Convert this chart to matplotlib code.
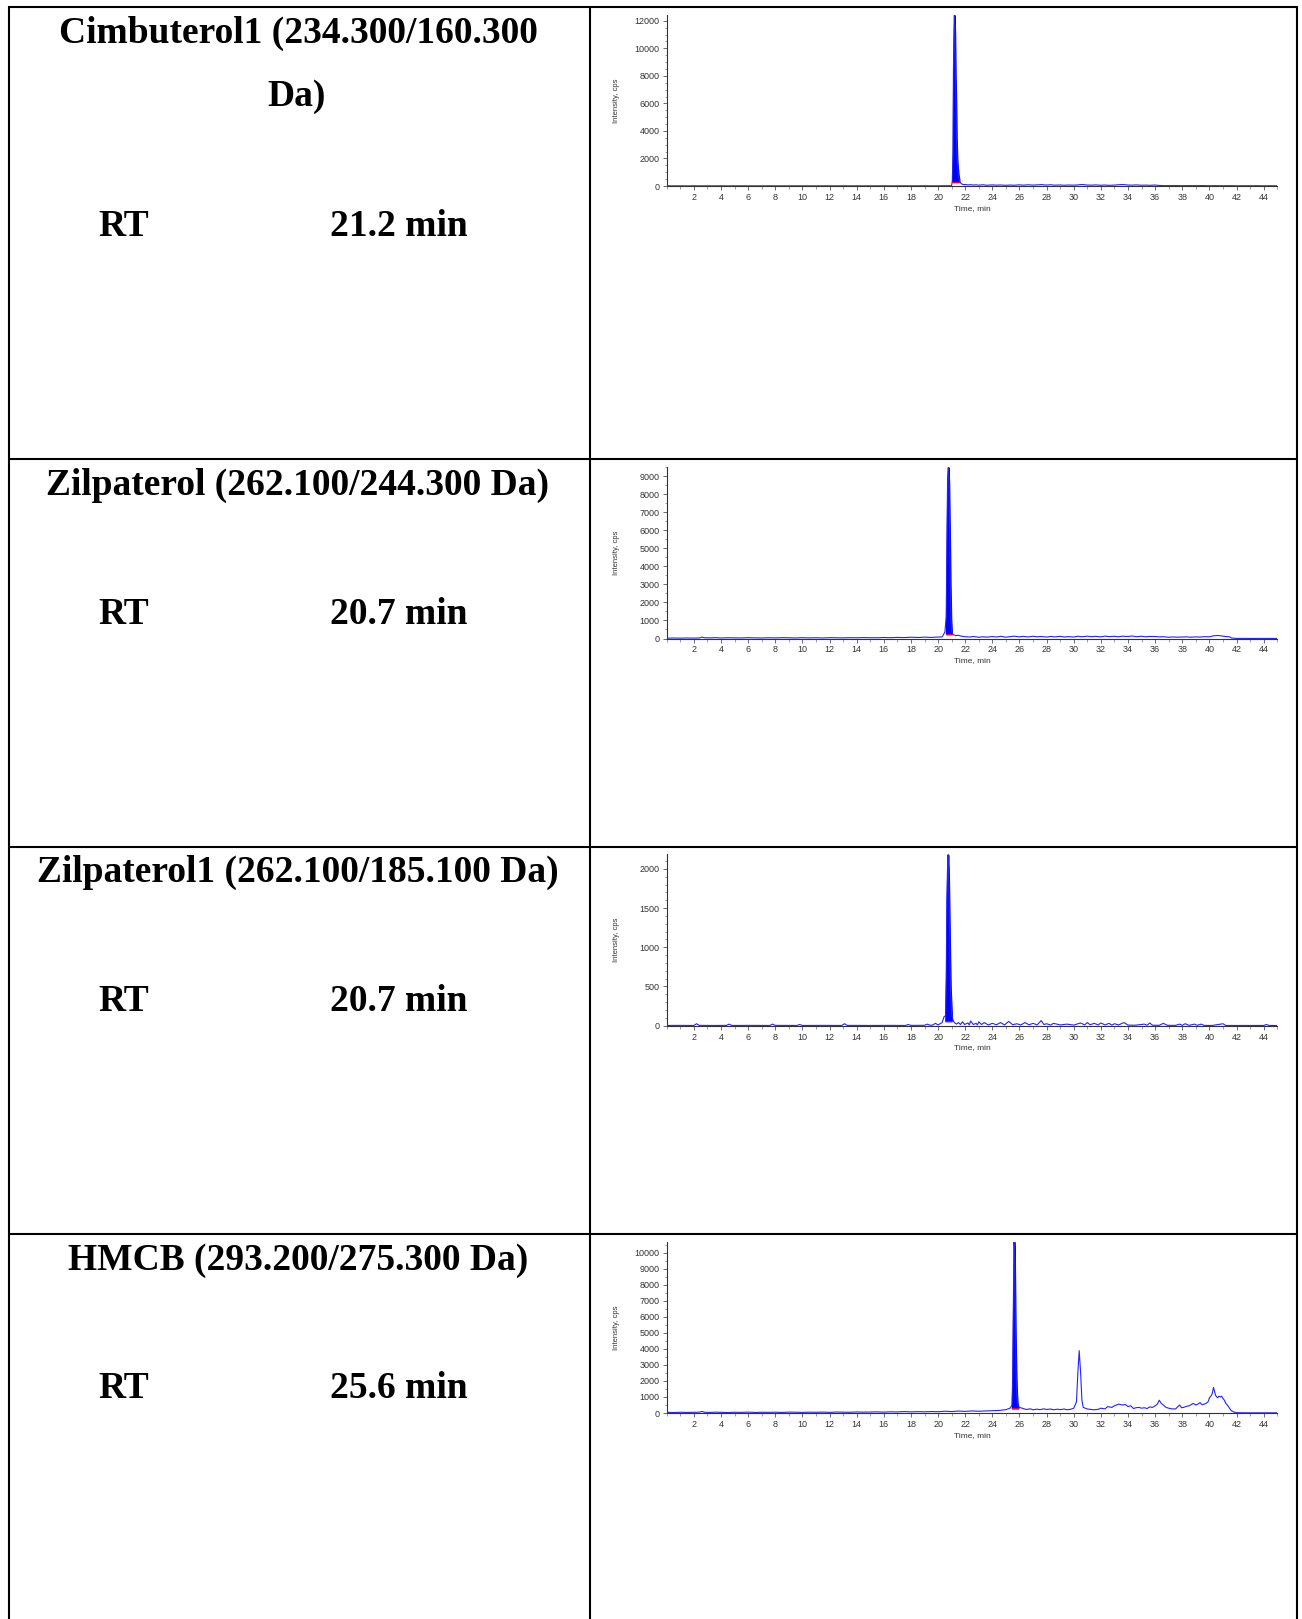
import matplotlib
matplotlib.use("Agg")
import matplotlib.pyplot as plt
from matplotlib import font_manager
from matplotlib.ticker import MultipleLocator, AutoMinorLocator

# Row labels (left column of the table)
titles = ["Cimbuterol1 (234.300/160.300", "Zilpaterol (262.100/244.300 Da)",
          "Zilpaterol1 (262.100/185.100 Da)", "HMCB (293.200/275.300 Da)"]
rt_values = ["21.2 min", "20.7 min", "20.7 min", "25.6 min"]

# Chromatogram traces (time in min, intensity in cps)
cim_t = [0.0, 0.5, 1.0, 1.5, 2.0, 2.5, 3.0, 3.5, 4.0, 4.5, 5.0, 5.5, 6.0, 6.5, 7.0, 7.5,
         8.0, 8.5, 9.0, 9.5, 10.0, 10.5, 11.0, 11.5, 12.0, 12.5, 13.0, 13.5, 14.0, 14.5,
         15.0, 15.5, 16.0, 16.5, 17.0, 17.5, 18.0, 18.5, 19.0, 19.5, 20.0, 20.5, 20.9,
         21.0, 21.05, 21.1, 21.13, 21.17, 21.2, 21.24, 21.28, 21.32, 21.36, 21.4,
         21.45, 21.5, 21.55, 21.6, 21.7, 21.8, 21.9, 22.0, 22.2, 22.4, 22.6, 22.8, 23.0,
         23.3, 23.6, 24.0, 24.3, 24.6, 25.0, 25.3, 25.6, 26.0, 26.3, 26.6, 27.0, 27.3,
         27.6, 28.0, 28.3, 28.6, 29.0, 29.3, 29.6, 30.0, 30.3, 30.6, 31.0, 31.3, 31.6,
         32.0, 32.3, 32.6, 33.0, 33.3, 33.6, 34.0, 34.3, 34.6, 35.0, 35.3, 35.6, 36.0,
         36.3, 36.6, 37.0, 37.5, 38.0, 38.5, 39.0, 39.5, 40.0, 40.5, 41.0, 41.5, 42.0,
         42.5, 43.0, 43.5, 44.0, 44.5, 45.0]
cim_i = [15, 10, 12, 8, 14, 10, 12, 9, 13, 10, 12, 15, 10, 12, 9, 13,
         11, 12, 10, 14, 11, 12, 10, 13, 12, 10, 14, 11, 12, 10,
         13, 12, 14, 11, 13, 15, 12, 14, 16, 13, 15, 18, 20,
         40, 350, 2400, 8300, 11000, 12400, 11000, 8000, 6000, 3300, 2000,
         1300, 800, 500, 300, 180, 120, 100, 110, 80, 95, 70, 85, 60,
         90, 55, 80, 60, 75, 50, 70, 55, 85, 60, 90, 65, 80,
         100, 70, 90, 60, 75, 55, 70, 60, 80, 110, 70, 60, 80,
         55, 70, 50, 65, 90, 110, 70, 60, 80, 55, 65, 50, 70,
         40, 30, 25, 30, 20, 28, 22, 30, 20, 25, 18, 24, 15,
         20, 18, 22, 15, 18, 16]

zil_t = [0.0, 0.5, 1.0, 1.5, 2.0, 2.4, 2.6, 2.8, 3.2, 3.6, 4.0, 4.5, 5.0, 5.5, 6.0, 6.5,
         7.0, 7.5, 8.0, 8.5, 9.0, 9.5, 10.0, 10.5, 11.0, 11.5, 12.0, 12.5, 13.0, 13.5,
         14.0, 14.5, 15.0, 15.5, 16.0, 16.5, 17.0, 17.5, 18.0, 18.5, 19.0, 19.5, 20.0,
         20.3, 20.5, 20.6, 20.65, 20.7, 20.75, 20.8, 20.85, 20.9, 20.95, 21.0, 21.1, 21.3,
         21.5, 21.7, 22.0, 22.3, 22.6, 23.0, 23.3, 23.6, 24.0, 24.3, 24.6, 25.0, 25.3,
         25.6, 26.0, 26.3, 26.6, 27.0, 27.3, 27.6, 28.0, 28.3, 28.6, 29.0, 29.3, 29.6,
         30.0, 30.3, 30.6, 31.0, 31.3, 31.6, 32.0, 32.3, 32.6, 33.0, 33.3, 33.6, 34.0,
         34.3, 34.6, 35.0, 35.3, 35.6, 36.0, 36.3, 36.6, 37.0, 37.3, 37.6, 38.0, 38.3,
         38.6, 39.0, 39.3, 39.6, 40.0, 40.3, 40.6, 40.9, 41.2, 41.5, 41.6, 42.0, 43.0,
         44.0, 45.0]
zil_i = [20, 25, 20, 28, 22, 30, 75, 40, 35, 45, 30, 40, 35, 30, 45, 35,
         30, 40, 35, 45, 40, 30, 45, 35, 40, 30, 45, 40, 35, 45,
         40, 50, 45, 40, 55, 45, 60, 50, 70, 55, 75, 60, 80,
         90, 350, 1200, 5200, 8800, 9500, 8600, 6000, 3200, 1100, 400, 220, 160,
         180, 130, 100, 80, 110, 70, 95, 75, 110, 80, 120, 75, 100,
         130, 90, 120, 85, 125, 95, 110, 80, 115, 90, 120, 85, 105,
         80, 125, 95, 130, 100, 120, 90, 135, 105, 120, 95, 130, 110,
         140, 100, 125, 95, 115, 110, 90, 100, 70, 85, 75, 80, 95,
         70, 90, 80, 100, 95, 150, 170, 140, 110, 90, 30, 5, 3,
         4, 3]

zil1_t = [0.0, 1.0, 2.0, 2.2, 2.4, 3.5, 4.4, 4.6, 4.8, 6.0, 7.6, 7.8, 8.0, 9.6, 9.8, 10.0,
          11.5, 12.9, 13.1, 13.3, 15.0, 16.5, 17.6, 17.8, 18.0, 19.0, 19.2, 19.4, 19.6,
          19.8, 20.0, 20.3, 20.45, 20.55, 20.6, 20.65, 20.7, 20.73, 20.77, 20.82, 20.87,
          20.92, 21.0, 21.1, 21.2, 21.35, 21.5, 21.65, 21.8, 21.95, 22.2, 22.3, 22.4, 22.6,
          22.8, 22.9, 23.0, 23.2, 23.4, 23.7, 24.0, 24.3, 24.6, 24.9, 25.2, 25.5, 25.8,
          26.1, 26.4, 26.7, 27.0, 27.3, 27.6, 27.8, 28.0, 28.3, 28.5, 29.0, 29.5, 30.0,
          30.5, 30.8, 31.0, 31.2, 31.5, 31.8, 32.0, 32.3, 32.6, 32.8, 33.0, 33.3, 33.7,
          34.0, 34.5, 35.2, 35.4, 35.6, 35.8, 36.3, 36.6, 36.9, 37.5, 37.8, 38.0, 38.2,
          38.5, 38.9, 39.1, 39.4, 39.6, 40.2, 41.0, 41.2, 42.5, 44.0, 44.2, 44.4, 45.0]
zil1_i = [3, 4, 3, 25, 4, 3, 4, 20, 3, 4, 3, 20, 4, 3, 15, 3,
          4, 3, 25, 4, 3, 4, 3, 15, 4, 5, 20, 6, 8,
          30, 10, 40, 120, 120, 600, 1600, 2050, 2180, 2000, 1500, 900,
          450, 150, 70, 40, 20, 40, 15, 50, 15, 35, 10, 60, 15,
          30, 10, 50, 15, 40, 10, 30, 12, 40, 10, 55, 12, 25,
          10, 40, 12, 30, 10, 65, 15, 25, 8, 30, 10, 20, 8,
          35, 10, 40, 12, 30, 10, 35, 10, 30, 8, 25, 10, 40,
          8, 6, 20, 6, 35, 6, 5, 30, 5, 4, 20, 5, 25,
          5, 20, 5, 20, 4, 3, 25, 3, 3, 3, 15, 3, 3]

hmcb_t = [0.0, 0.5, 1.0, 1.5, 2.0, 2.4, 2.6, 2.8, 3.2, 3.6, 4.0, 4.5, 5.0, 5.5, 6.0, 6.5,
          7.0, 7.5, 8.0, 8.5, 9.0, 9.5, 10.0, 10.5, 11.0, 11.5, 12.0, 12.5, 13.0, 13.5,
          14.0, 14.5, 15.0, 15.5, 16.0, 16.5, 17.0, 17.5, 18.0, 18.5, 19.0, 19.5, 20.0,
          20.5, 21.0, 21.5, 22.0, 22.5, 23.0, 23.5, 24.0, 24.5, 25.0, 25.3, 25.45, 25.5,
          25.55, 25.6, 25.63, 25.67, 25.7, 25.75, 25.8, 25.85, 25.9, 26.0, 26.2, 26.5,
          26.8, 27.0, 27.3, 27.5, 27.8, 28.0, 28.3, 28.5, 28.8, 29.0, 29.3, 29.5, 29.8,
          30.0, 30.2, 30.3, 30.4, 30.5, 30.6, 30.7, 31.0, 31.3, 31.5, 31.8, 32.0, 32.3,
          32.5, 32.8, 33.0, 33.3, 33.6, 33.8, 34.0, 34.2, 34.4, 34.6, 34.8, 35.0, 35.2,
          35.4, 35.6, 35.8, 36.0, 36.15, 36.3, 36.45, 36.6, 36.8, 37.0, 37.2, 37.5, 37.65,
          37.8, 37.95, 38.1, 38.3, 38.5, 38.65, 38.8, 39.0, 39.15, 39.3, 39.45, 39.6,
          39.75, 39.9, 40.0, 40.1, 40.2, 40.3, 40.4, 40.45, 40.6, 40.7, 40.8, 40.9, 41.0,
          41.1, 41.2, 41.3, 41.4, 41.6, 41.8, 42.0, 42.5, 43.0, 43.5, 44.0, 44.5, 45.0]
hmcb_i = [40, 30, 45, 35, 40, 50, 95, 45, 35, 50, 40, 30, 45, 40, 55, 35,
          45, 40, 50, 35, 55, 45, 40, 50, 45, 55, 40, 60, 50, 45,
          65, 55, 60, 70, 55, 75, 65, 90, 70, 85, 75, 90, 80,
          110, 90, 120, 100, 130, 110, 125, 140, 160, 210, 300, 500, 2400,
          7000, 10700, 10200, 7500, 5000, 2600, 1200, 600, 400, 350, 300, 220,
          260, 200, 240, 210, 260, 220, 250, 200, 240, 210, 250, 200, 240,
          300, 700, 2500, 3900, 2600, 800, 350, 250, 220, 200, 230, 300, 260,
          400, 350, 450, 550, 500, 530, 400, 450, 280, 330, 350, 300, 330,
          280, 380, 350, 450, 550, 800, 600, 500, 350, 300, 260, 250, 380,
          500, 330, 350, 420, 450, 520, 600, 500, 560, 650, 520, 550,
          600, 700, 950, 1050, 1200, 1600, 1250, 1100, 950, 1050, 1000, 1050, 900,
          800, 600, 520, 400, 150, 60, 20, 12, 10, 12, 10, 12, 10]

traces = [(cim_t, cim_i), (zil_t, zil_i), (zil1_t, zil1_i), (hmcb_t, hmcb_i)]
y_tops = [12450, 9516, 2186, 10712]
y_steps = [2000, 1000, 500, 1000]
y_minor = [4, 2, 5, 2]
# integrated peak window (start, end) and its baseline level
peak_windows = [(21.05, 21.55), (20.55, 21.0), (20.55, 21.0), (25.45, 25.9)]
peak_bases = [300, 250, 60, 300]

W, H = 1302, 1619
row_tops = [7, 459.5, 846.7, 1234]

names = {f.name for f in font_manager.fontManager.ttflist}
tick_font = "Liberation Sans Narrow" if "Liberation Sans Narrow" in names else "Liberation Sans"

fig = plt.figure(figsize=(W / 100, H / 100), dpi=100)

# Table grid and left column text, drawn in pixel units
bg = fig.add_axes([0, 0, 1, 1])
bg.set_xlim(0, W)
bg.set_ylim(H, 0)
bg.axis("off")
for x in [8.5, 589.5, 1297]:
    bg.plot([x, x], [6, H], color="black", lw=1.5, solid_capstyle="butt")
for y in row_tops:
    bg.plot([7.5, 1298], [y, y], color="black", lw=1.5, solid_capstyle="butt")

serif = dict(family="Liberation Serif", weight="bold", fontsize=27, color="black")
for k, top in enumerate(row_tops):
    bg.text(298, top + 26, titles[k], ha="center", va="center", **serif)
    rt_y = top + 154.5
    if k == 0:
        bg.text(297, top + 90, "Da)", ha="center", va="center", **serif)
        rt_y = top + 219
    bg.text(98, rt_y, "RT", ha="left", va="center", **serif)
    bg.text(330, rt_y, rt_values[k], ha="left", va="center", **serif)

# Chromatograms
ax_left, ax_right, ax_h = 666.7, 1277.3, 171.4
for k, top in enumerate(row_tops):
    bottom = top + 179
    ax = fig.add_axes([ax_left / W, 1 - bottom / H, (ax_right - ax_left) / W, ax_h / H])
    t, inten = traces[k]
    ax.plot(t, inten, color="#2323ff", lw=0.8, zorder=3)
    t0, t1 = peak_windows[k]
    ax.fill_between(t, peak_bases[k], inten, where=[t0 <= v <= t1 for v in t],
                    color="#0000ff", ec="#0000ff", lw=1.2, zorder=2)
    ax.plot([t0, t1], [peak_bases[k], peak_bases[k]], color="red", lw=0.8, zorder=4)
    ax.set_xlim(0, 45)
    ax.set_ylim(0, y_tops[k])
    ax.xaxis.set_minor_locator(MultipleLocator(1))
    ax.yaxis.set_major_locator(MultipleLocator(y_steps[k]))
    ax.yaxis.set_minor_locator(AutoMinorLocator(y_minor[k]))
    ax.set_xticks(range(2, 45, 2))
    for s in ["top", "right"]:
        ax.spines[s].set_visible(False)
    for s in ["left", "bottom"]:
        ax.spines[s].set_color("#333333")
        ax.spines[s].set_linewidth(0.8)
    ax.tick_params(which="major", length=3, width=0.6, color="#555555",
                   labelsize=6.5, labelcolor="#333333", pad=2)
    ax.tick_params(which="minor", length=1.8, width=0.5, color="#777777")
    for lab in ax.get_xticklabels() + ax.get_yticklabels():
        lab.set_family(tick_font)
    ax.set_ylabel("Intensity, cps", fontsize=5.5, family=tick_font, color="#333333")
    ax.yaxis.set_label_coords(-0.076, 0.5)
    ax.set_xlabel("Time, min", fontsize=6, family=tick_font, color="#333333", labelpad=2)
    ax.patch.set_alpha(0)

fig.savefig("out.png", dpi=100)
